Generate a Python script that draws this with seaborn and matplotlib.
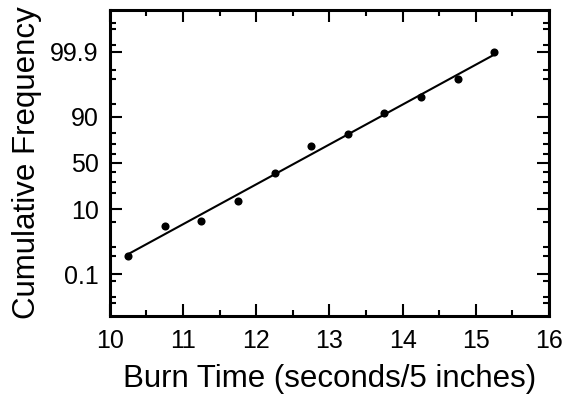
import numpy as np
import pandas as pd
import matplotlib
matplotlib.use("Agg")
import matplotlib.pyplot as plt
import seaborn as sns
from statistics import NormalDist

# Data
burn_time = [10.25, 10.75, 11.25, 11.75, 12.25, 12.75, 13.25, 13.75, 14.25, 14.75, 15.25]
cum_freq = [0.5, 3.9, 5.4, 14.6, 39.0, 68.0, 78.6, 91.8, 96.6, 99.0, 99.9]

x_ticks = [10, 11, 12, 13, 14, 15, 16]
y_major = [0.1, 10, 50, 90, 99.9]
y_major_labels = ["0.1", "10", "50", "90", "99.9"]
y_minor = [0.005, 0.01, 0.05, 0.5, 1, 5, 20, 30, 40, 60, 70, 80, 95, 99, 99.5, 99.95, 99.99, 99.995]

nd = NormalDist()
_ppf = np.vectorize(nd.inv_cdf, otypes=[float])
_cdf = np.vectorize(nd.cdf, otypes=[float])


def to_z(p):
    p = np.clip(np.asarray(p, dtype=float) / 100.0, 1e-12, 1 - 1e-12)
    return _ppf(p)


def to_p(z):
    return _cdf(np.asarray(z, dtype=float)) * 100.0


df = pd.DataFrame({"burn_time": burn_time, "cum_freq": cum_freq})

# least squares fit in probability (z) space
b, a = np.polyfit(df["burn_time"], to_z(df["cum_freq"]), 1)
fit = pd.DataFrame({"burn_time": [burn_time[0], burn_time[-1]]})
fit["cum_freq"] = to_p(a + b * fit["burn_time"])

sns.set_style("ticks", {"axes.edgecolor": "black", "text.color": "black",
                        "xtick.color": "black", "ytick.color": "black",
                        "axes.labelcolor": "black"})
plt.rcParams["font.family"] = ["Liberation Sans", "DejaVu Sans"]

fig, ax = plt.subplots(figsize=(5.66, 3.99), dpi=100)
fig.subplots_adjust(left=0.194, right=0.970, top=0.975, bottom=0.208)

ax.set_yscale("function", functions=(to_z, to_p))

sns.lineplot(data=fit, x="burn_time", y="cum_freq", color="black", linewidth=1.5, ax=ax)
sns.scatterplot(data=df, x="burn_time", y="cum_freq", color="black", s=34,
                edgecolor="black", linewidth=0, ax=ax, zorder=3)

ax.set_xlim(10, 16)
ax.set_ylim(float(to_p(-4.25)), float(to_p(4.25)))
ax.set_xticks(x_ticks)
ax.set_xticks(np.arange(10.5, 16, 1.0), minor=True)
ax.set_yticks(y_major)
ax.set_yticklabels(y_major_labels)
ax.set_yticks(y_minor, minor=True)
ax.yaxis.set_minor_formatter(matplotlib.ticker.NullFormatter())

for s in ax.spines.values():
    s.set_linewidth(2.2)
    s.set_color("black")
    s.set_visible(True)
ax.tick_params(which="both", direction="in", top=True, right=True, width=1.5,
               labelsize=18, colors="black")
ax.tick_params(axis="x", which="both", pad=9)
ax.tick_params(axis="y", which="both", pad=8)
ax.tick_params(which="major", length=8.5)
ax.tick_params(which="minor", length=4.3)

ax.set_xlabel("Burn Time (seconds/5 inches)", fontsize=22.5, labelpad=8)
ax.set_ylabel("Cumulative Frequency", fontsize=22.5, labelpad=6)

fig.savefig("out.png", dpi=100)
